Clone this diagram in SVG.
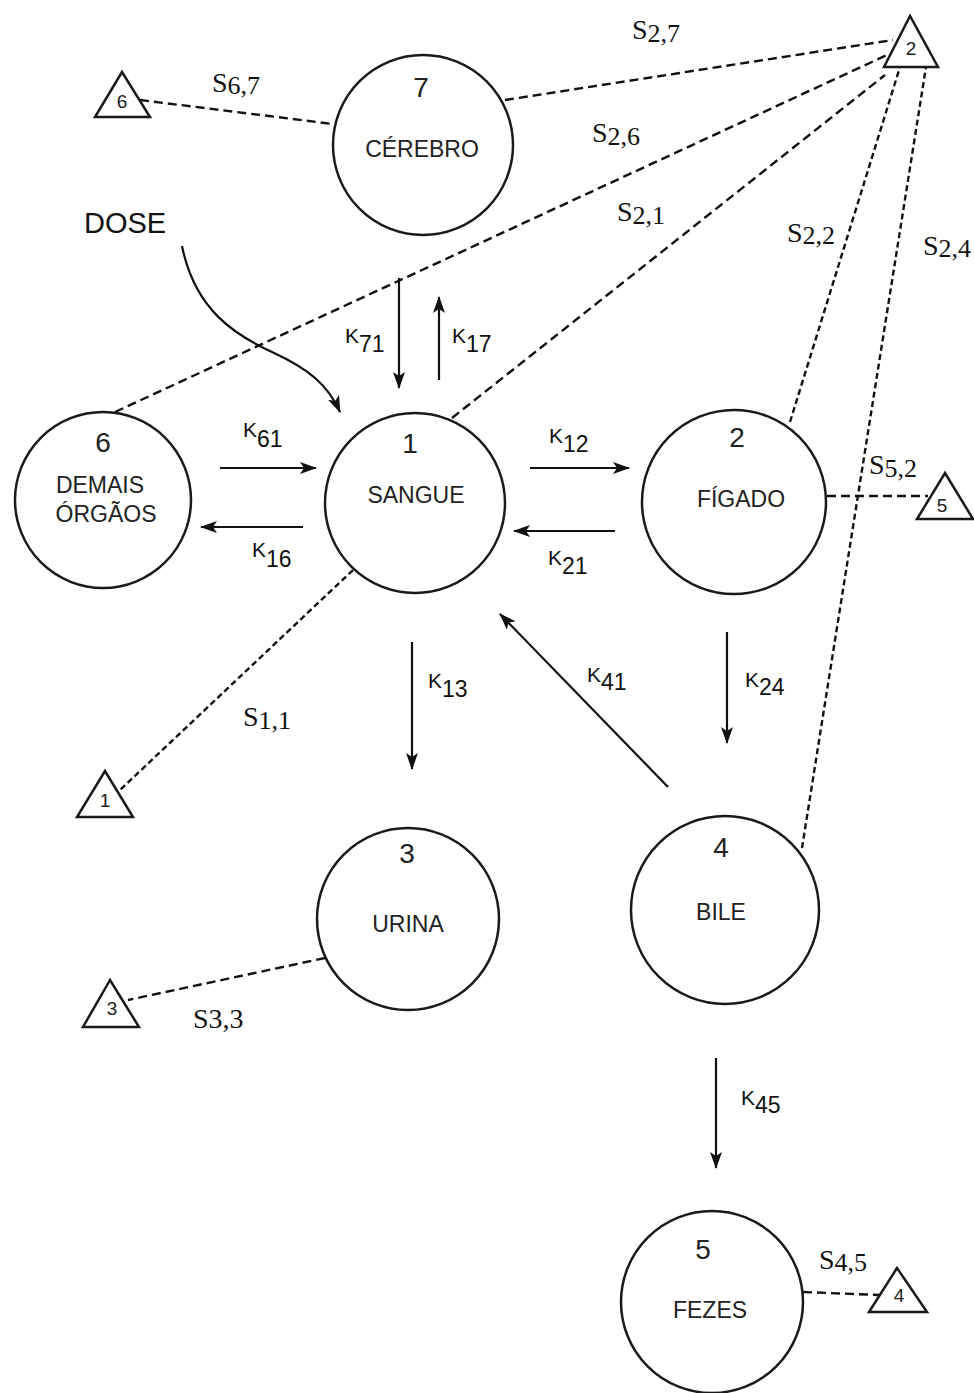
<svg xmlns="http://www.w3.org/2000/svg" width="974" height="1393" viewBox="0 0 974 1393">
<style>
.node{fill:#fff;stroke:#1a1a1a;stroke-width:2.5}
.tri{fill:#fff;stroke:#1a1a1a;stroke-width:2.5;stroke-linejoin:miter}
.lbl{font-family:"Liberation Sans",Arial,sans-serif;font-size:23px;fill:#222;text-anchor:middle}
.num{font-family:"Liberation Sans",Arial,sans-serif;font-size:28px;fill:#222;text-anchor:middle}
.tnum{font-family:"Liberation Sans",Arial,sans-serif;font-size:19px;fill:#222;text-anchor:middle}
.k{font-family:"Liberation Sans",Arial,sans-serif;font-size:21px;fill:#111}
.ks{font-size:23px}
.s{font-family:"Liberation Serif","Times New Roman",serif;font-size:28px;fill:#111}
.ss{font-size:26px}
.dash{fill:none;stroke:#111;stroke-width:2.4;stroke-dasharray:9 5}
.dashf{fill:none;stroke:#111;stroke-width:2.4;stroke-dasharray:6 3.5}
.arr{fill:none;stroke:#111;stroke-width:2.2;marker-end:url(#ah)}
</style>
<defs>
<marker id="ah" markerUnits="userSpaceOnUse" markerWidth="17" markerHeight="12" refX="16" refY="6" orient="auto">
<path d="M0,0 L17,6 L0,12 L4,6 Z" fill="#111"/>
</marker>
</defs>

<g id="connectors">
<line class="dash" x1="140" y1="100" x2="333" y2="124"/>
<line class="dash" x1="505" y1="100" x2="893" y2="40"/>
<line class="dash" x1="115" y1="412" x2="887" y2="55"/>
<line class="dash" x1="452" y1="418" x2="885" y2="75"/>
<line class="dashf" x1="790" y1="422" x2="900" y2="67"/>
<line class="dashf" x1="802" y1="848" x2="926" y2="67"/>
<line class="dash" x1="827" y1="496" x2="928" y2="496"/>
<line class="dashf" x1="353" y1="570" x2="120" y2="790"/>
<line class="dash" x1="325" y1="958" x2="128" y2="1000"/>
<line class="dash" x1="803" y1="1292" x2="880" y2="1295"/>

<path class="arr" d="M182,246 C195,310 235,335 272,352 S328,385 340,412"/>
<line class="arr" x1="399" y1="278" x2="399" y2="388"/>
<line class="arr" x1="439" y1="380" x2="439" y2="297"/>
<line class="arr" x1="220" y1="468" x2="316" y2="468"/>
<line class="arr" x1="303" y1="527" x2="201" y2="527"/>
<line class="arr" x1="530" y1="468" x2="629" y2="468"/>
<line class="arr" x1="615" y1="531" x2="514" y2="531"/>
<line class="arr" x1="412" y1="642" x2="412" y2="769"/>
<line class="arr" x1="727" y1="632" x2="727" y2="743"/>
<line class="arr" x1="668" y1="787" x2="500" y2="614"/>
<line class="arr" x1="716" y1="1058" x2="716" y2="1168"/>
</g>

<g id="node7">
<circle class="node" cx="423" cy="145" r="90"/>
<text class="num" x="421" y="97">7</text>
<text class="lbl" x="422" y="157">CÉREBRO</text>
</g>
<g id="node6">
<circle class="node" cx="103" cy="500" r="88"/>
<text class="num" x="103" y="452">6</text>
<text class="lbl" x="100" y="493">DEMAIS</text>
<text class="lbl" x="106" y="522">ÓRGÃOS</text>
</g>
<g id="node1">
<circle class="node" cx="415" cy="503" r="90"/>
<text class="num" x="410" y="453">1</text>
<text class="lbl" x="416" y="503">SANGUE</text>
</g>
<g id="node2">
<circle class="node" cx="734" cy="502" r="92"/>
<text class="num" x="737" y="447">2</text>
<text class="lbl" x="741" y="507">FÍGADO</text>
</g>
<g id="node3">
<circle class="node" cx="408" cy="919" r="91"/>
<text class="num" x="407" y="863">3</text>
<text class="lbl" x="408" y="932">URINA</text>
</g>
<g id="node4">
<circle class="node" cx="725" cy="910" r="94"/>
<text class="num" x="721" y="857">4</text>
<text class="lbl" x="721" y="920">BILE</text>
</g>
<g id="node5">
<circle class="node" cx="712" cy="1302" r="91"/>
<text class="num" x="703" y="1259">5</text>
<text class="lbl" x="710" y="1318">FEZES</text>
</g>

<g id="tri6"><polygon class="tri" points="122,72 95,117 150,117"/><text class="tnum" x="122" y="108">6</text></g>
<g id="tri2"><polygon class="tri" points="910,16 884,67 938,67"/><text class="tnum" x="911" y="55">2</text></g>
<g id="tri5"><polygon class="tri" points="945,473 917,519 973,519"/><text class="tnum" x="942" y="512">5</text></g>
<g id="tri1"><polygon class="tri" points="105,771 77,817 133,817"/><text class="tnum" x="105" y="807">1</text></g>
<g id="tri3"><polygon class="tri" points="110,980 83,1027 139,1027"/><text class="tnum" x="112" y="1015">3</text></g>
<g id="tri4"><polygon class="tri" points="897,1268 869,1312 927,1312"/><text class="tnum" x="899" y="1302">4</text></g>

<g id="dose"><text x="84" y="233" font-family="Liberation Sans,Arial,sans-serif" font-size="29" fill="#111">DOSE</text></g>

<g id="k-labels">
<text class="k" x="345" y="343">K<tspan class="ks" dy="9">71</tspan></text>
<text class="k" x="452" y="343">K<tspan class="ks" dy="9">17</tspan></text>
<text class="k" x="243" y="437">K<tspan class="ks" dy="10">61</tspan></text>
<text class="k" x="252" y="557">K<tspan class="ks" dy="10">16</tspan></text>
<text class="k" x="549" y="443">K<tspan class="ks" dy="9">12</tspan></text>
<text class="k" x="548" y="565">K<tspan class="ks" dy="9">21</tspan></text>
<text class="k" x="428" y="688">K<tspan class="ks" dy="9">13</tspan></text>
<text class="k" x="587" y="682">K<tspan class="ks" dy="8">41</tspan></text>
<text class="k" x="745" y="687">K<tspan class="ks" dy="8">24</tspan></text>
<text class="k" x="741" y="1105">K<tspan class="ks" dy="8">45</tspan></text>
</g>

<g id="s-labels">
<text class="s" x="212" y="92">S<tspan class="ss" dy="2">6,7</tspan></text>
<text class="s" x="632" y="39">S<tspan class="ss" dy="3">2,7</tspan></text>
<text class="s" x="592" y="142">S<tspan class="ss" dy="3">2,6</tspan></text>
<text class="s" x="617" y="221">S<tspan class="ss" dy="3">2,1</tspan></text>
<text class="s" x="787" y="242">S<tspan class="ss" dy="2">2,2</tspan></text>
<text class="s" x="923" y="255">S<tspan class="ss" dy="2">2,4</tspan></text>
<text class="s" x="869" y="474">S<tspan class="ss" dy="3">5,2</tspan></text>
<text class="s" x="243" y="726">S<tspan class="ss" dy="3">1,1</tspan></text>
<text class="s" x="193" y="1028">S3,3</text>
<text class="s" x="819" y="1269">S<tspan class="ss" dy="2">4,5</tspan></text>
</g>
</svg>
